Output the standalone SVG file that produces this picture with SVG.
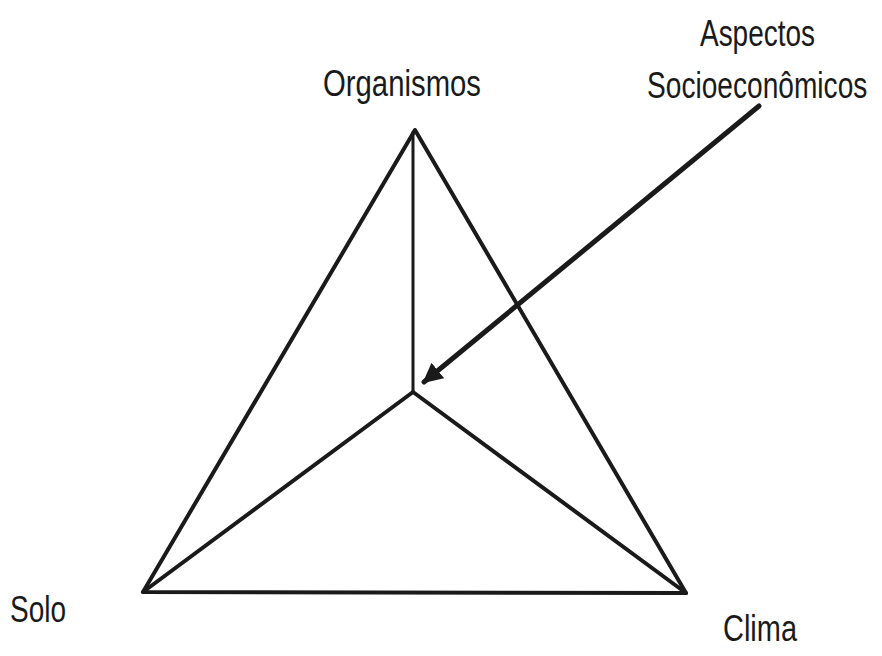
<svg xmlns="http://www.w3.org/2000/svg" width="882" height="656" viewBox="0 0 882 656">
<style>
text{font-family:"Liberation Sans",Arial,sans-serif;font-size:37px;fill:#1a1a1a}
.e{stroke:#1a1a1a;fill:none;stroke-linecap:round;stroke-linejoin:round}
</style>
<defs>
<marker id="ah" viewBox="0 0 10 10" refX="9" refY="5" markerWidth="4" markerHeight="4" orient="auto" markerUnits="strokeWidth">
<path d="M0,0 L10,5 L0,10 z" fill="#1a1a1a"/>
</marker>
</defs>
<rect width="882" height="656" fill="#fff"/>
<g id="connectors">
<path class="e" stroke-width="4" d="M415,130 L143,592 L686,593 Z"/>
<line class="e" stroke-width="3" x1="413" y1="132" x2="413" y2="392"/>
<line class="e" stroke-width="4" x1="413" y1="392" x2="143" y2="592"/>
<line class="e" stroke-width="4" x1="413" y1="392" x2="686" y2="593"/>
<line class="e" stroke-width="5" x1="759" y1="106" x2="424" y2="382" marker-end="url(#ah)"/>
</g>
<g id="organismos"><text x="323" y="96" textLength="158" lengthAdjust="spacingAndGlyphs">Organismos</text></g>
<g id="aspectos"><text x="700" y="46" textLength="115" lengthAdjust="spacingAndGlyphs">Aspectos</text><text transform="translate(647,98) scale(0.76,1)">Socioeconômicos</text></g>
<g id="solo"><text x="10" y="622" textLength="56" lengthAdjust="spacingAndGlyphs">Solo</text></g>
<g id="clima"><text x="723" y="641" textLength="74" lengthAdjust="spacingAndGlyphs">Clima</text></g>
</svg>
